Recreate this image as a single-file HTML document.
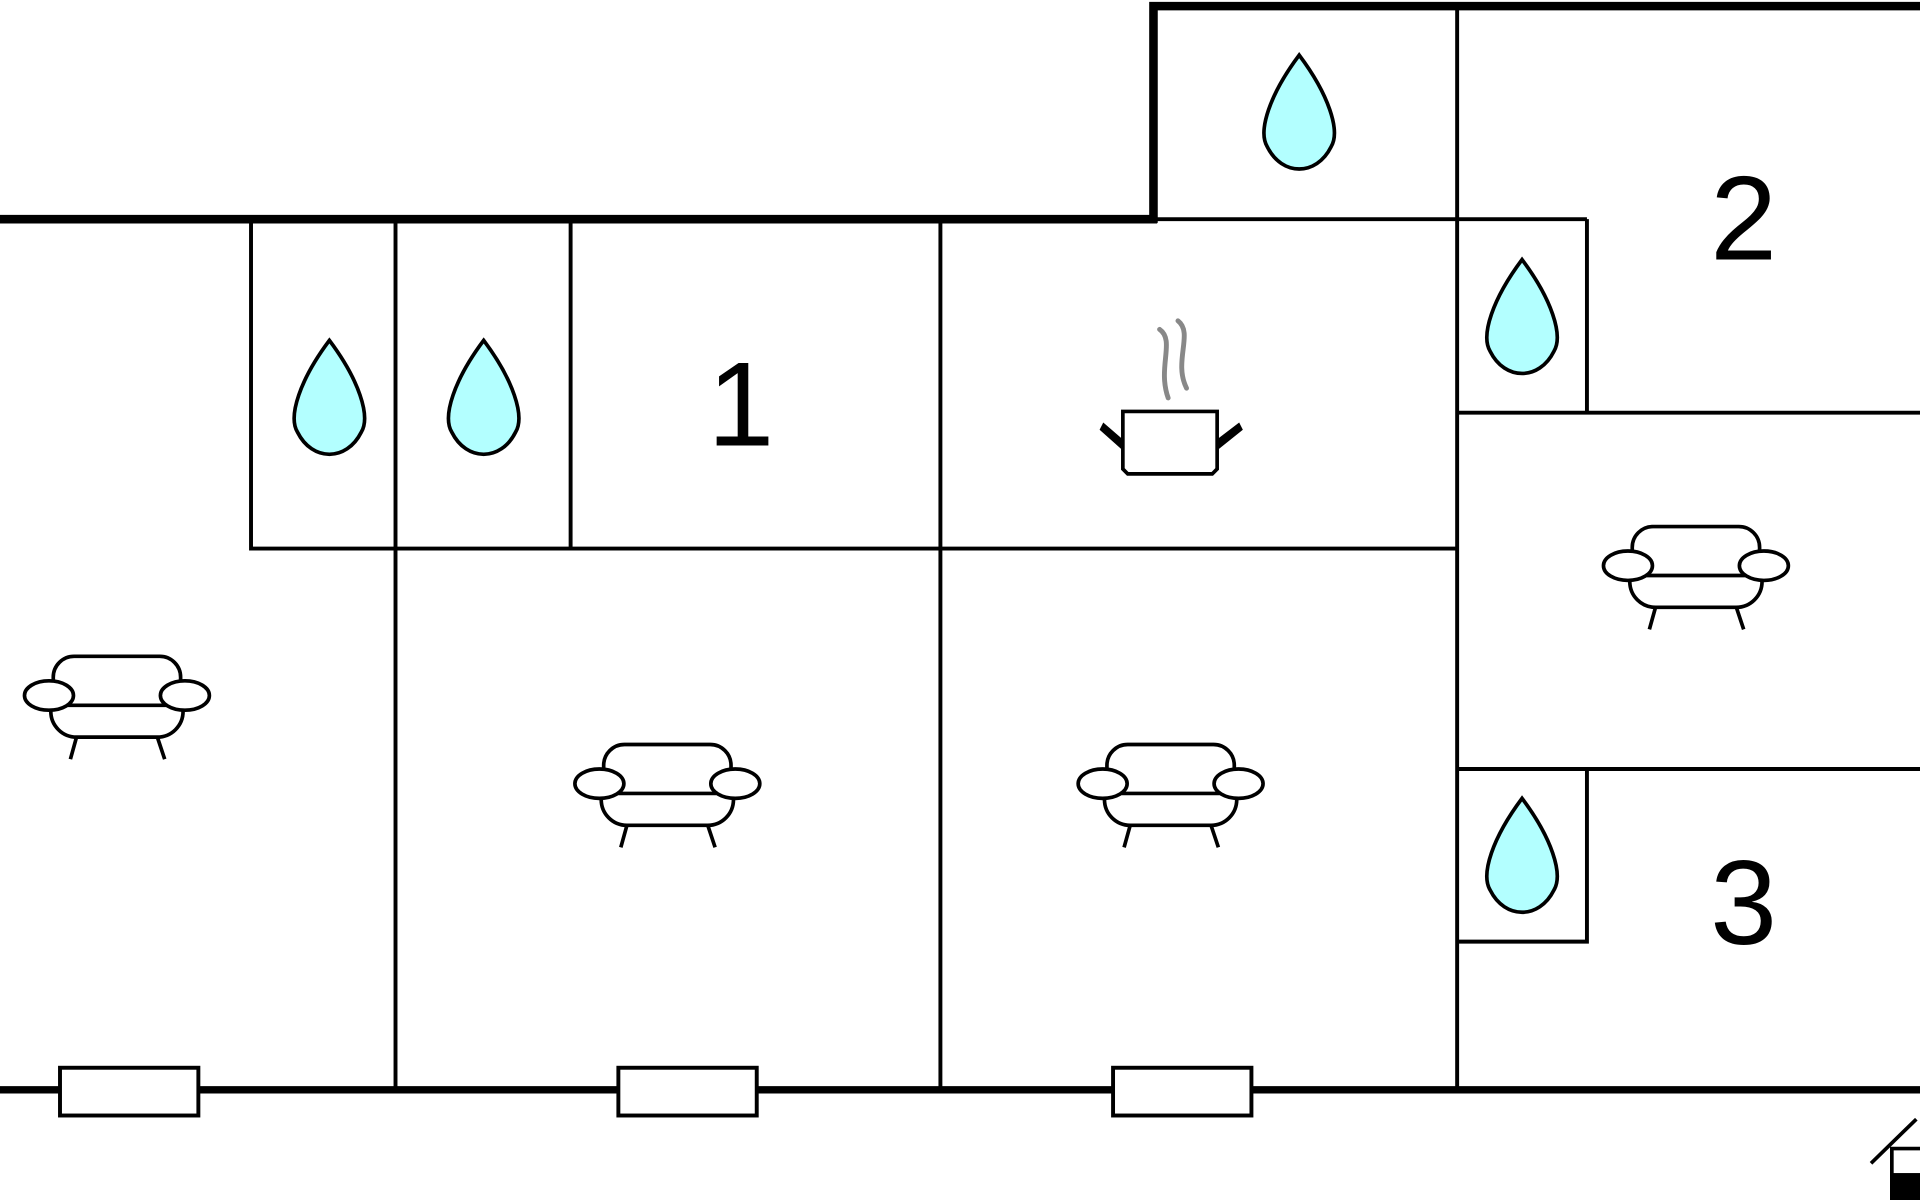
<!DOCTYPE html>
<html><head><meta charset="utf-8"><style>html,body{margin:0;padding:0;background:#fff}svg{display:block}</style></head>
<body>
<svg width="1920" height="1200" viewBox="0 0 1568 980" xmlns="http://www.w3.org/2000/svg">
<defs>
<g id="drop"><path d="M0,0 C-24,32 -34,62 -26,75 C-14,99 14,99 26,75 C34,62 24,32 0,0 Z" fill="#b3ffff" stroke="#000" stroke-width="3"/></g>
<g id="sofa" fill="#fff" stroke="#000" stroke-width="3">
<path d="M-52,-10 V-15 a17,17 0 0 1 17,-17 H35 a17,17 0 0 1 17,17 V-10"/>
<path d="M-40,8 H40"/>
<path d="M-54,10 v3 a21,21 0 0 0 21,21 h66 a21,21 0 0 0 21,-21 v-3"/>
<path d="M-33,34 L-38,52 M33,34 L39,52"/>
<ellipse cx="-55.5" cy="0" rx="20" ry="12"/>
<ellipse cx="55.5" cy="0" rx="20" ry="12"/>
</g>
</defs>
<g stroke="#000" fill="none">
<path d="M0,179 H945 M942,182 V5 H1568" stroke-width="7"/>
<path d="M0,890 H1568" stroke-width="6"/>
<g stroke-width="3.2">
<path d="M1190,5 V890 M945,179 H1296 M1296,179 V337 M1190,337 H1568 M1190,628 H1568 M1296,628 V769 H1190"/>
<path d="M205,179 V448 H1190 M323,179 V890 M466,179 V448 M768,179 V890"/>
<rect x="49" y="872" width="113" height="39" fill="#fff"/>
<rect x="505" y="872" width="113" height="39" fill="#fff"/>
<rect x="909" y="872" width="113" height="39" fill="#fff"/>
</g>
</g>
<use href="#drop" x="269" y="278"/>
<use href="#drop" x="395" y="278"/>
<use href="#drop" x="1061" y="45"/>
<use href="#drop" x="1243" y="212"/>
<use href="#drop" x="1243" y="652"/>
<use href="#sofa" x="95.5" y="568"/>
<use href="#sofa" x="545" y="640"/>
<use href="#sofa" x="956" y="640"/>
<use href="#sofa" x="1385" y="462"/>
<g>
<path d="M917,336 H994 V383 L990,387 H921 L917,383 Z" fill="#fff" stroke="#000" stroke-width="3"/>
<path d="M916,358 L901,345 L898,351 L916,367 Z M995,358 L1012,345 L1015,351 L995,367 Z" fill="#000"/>
<path d="M947,269 C960,278 945,300 954,325 M962,262 C975,272 958,295 969,317" stroke="#888" stroke-width="4" fill="none" stroke-linecap="round"/>
</g>
<g font-family="Liberation Sans, sans-serif" font-size="98" fill="#000" text-anchor="middle">
<text x="605" y="364">1</text>
<text x="1424" y="212">2</text>
<text x="1424" y="771">3</text>
</g>
<path d="M1528,950 L1565,914" stroke="#000" stroke-width="3"/>
<path d="M1545,980 V938 H1568" stroke="#000" stroke-width="3" fill="none"/>
<rect x="1545" y="958" width="23" height="22" fill="#000"/>
</svg>
</body></html>
